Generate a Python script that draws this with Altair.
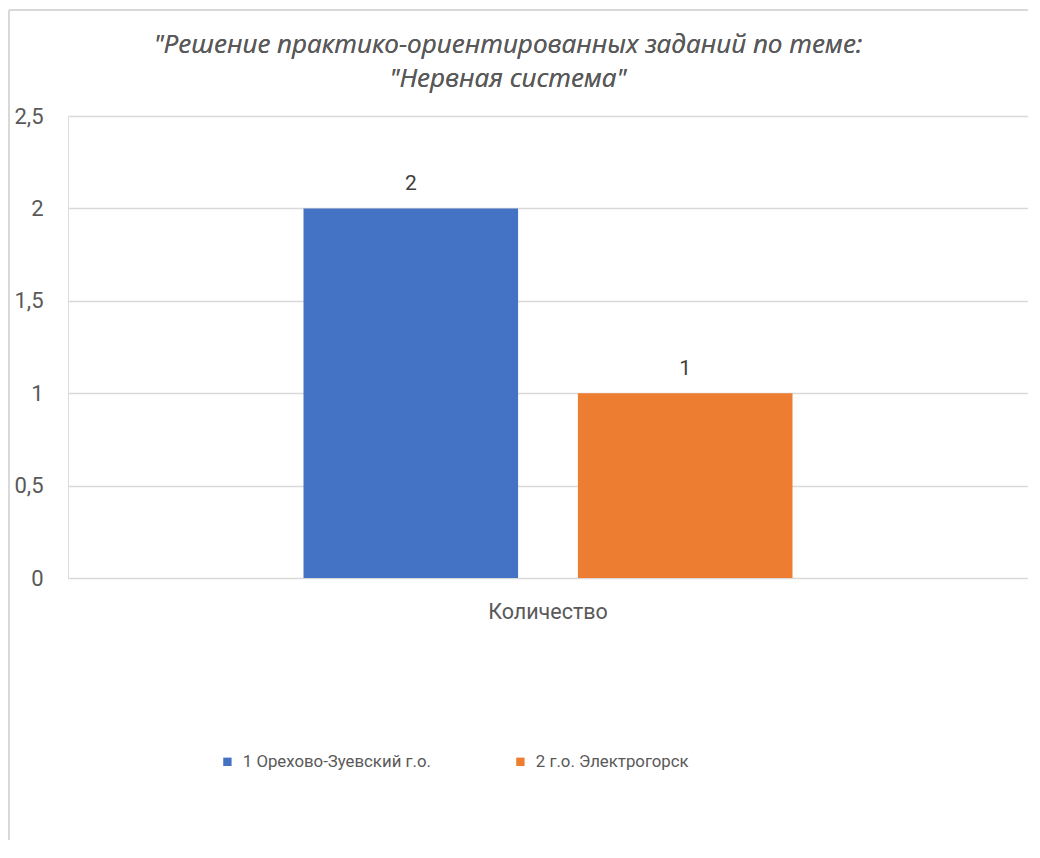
import altair as alt
import pandas as pd

categories = ["Количество", "Количество"]
series = ["1 Орехово-Зуевский г.о.", "2 г.о. Электрогорск"]
values = [2, 1]
colors = ["#4472C4", "#ED7D31"]
y_ticks = [0, 0.5, 1, 1.5, 2, 2.5]
title_lines = ['"Решение практико-ориентированных заданий по теме:', '"Нервная система"']

df = pd.DataFrame({"cat": categories, "series": series, "value": values})

FONT = "Roboto"
GRAY = "#595959"

base = alt.Chart(df)

bars = base.mark_bar().encode(
    x=alt.X("cat:N", title=None,
            scale=alt.Scale(paddingInner=0, paddingOuter=0.4816),
            axis=alt.Axis(labelAngle=0, labelFontSize=21.5, labelColor=GRAY, labelFont=FONT,
                          labelPadding=23, ticks=False, domain=False)),
    xOffset=alt.XOffset("series:N", scale=alt.Scale(paddingInner=0.218, paddingOuter=0)),
    y=alt.Y("value:Q", title=None,
            scale=alt.Scale(domain=[0, 2.5], nice=False),
            axis=alt.Axis(values=y_ticks, labelExpr="replace(format(datum.value, '~g'), '.', ',')",
                          labelFontSize=22, labelColor=GRAY, labelFont=FONT, labelPadding=25,
                          ticks=False, domain=False, grid=True, gridColor="#d9d9d9", gridWidth=1.5)),
    color=alt.Color("series:N", title=None,
                    scale=alt.Scale(domain=series, range=colors),
                    legend=alt.Legend(orient="none", legendX=151, legendY=637, direction="horizontal",
                                      symbolType="square", symbolSize=70, symbolStrokeWidth=0,
                                      labelFontSize=16.8, labelColor=GRAY, labelFont=FONT, labelLimit=0,
                                      labelOffset=7, columnPadding=81)),
)

labels = base.mark_text(baseline="bottom", dy=-14, fontSize=21, color="#404040", font=FONT).encode(
    x=alt.X("cat:N"),
    xOffset=alt.XOffset("series:N"),
    y=alt.Y("value:Q"),
    text=alt.Text("value:Q"),
)

title1 = base.mark_text(fontSize=26, font="Open Sans", fontStyle="italic", color=GRAY,
                        align="center", baseline="alphabetic").encode(
    x=alt.value(440), y=alt.value(-63), text=alt.value(title_lines[0])
)
title2 = base.mark_text(fontSize=26, font="Open Sans", fontStyle="italic", color=GRAY,
                        align="center", baseline="alphabetic").encode(
    x=alt.value(440), y=alt.value(-29), text=alt.value(title_lines[1])
)

border_top = base.mark_rule(color="#d9d9d9", strokeWidth=2, clip=False).encode(
    x=alt.value(-59), x2=alt.value(980), y=alt.value(-106)
)
border_left = base.mark_rule(color="#d9d9d9", strokeWidth=2, clip=False).encode(
    x=alt.value(-59), y=alt.value(-106), y2=alt.value(745)
)

chart = alt.layer(bars, labels, title1, title2, border_top, border_left).properties(
    width=960, height=462,
    autosize=alt.AutoSizeParams(type="none"),
    padding={"left": 60, "top": 108, "right": 0, "bottom": 262},
).configure_view(stroke=None).configure(background="white")

chart.save("out.html", embed_options={"renderer": "svg", "actions": False})
